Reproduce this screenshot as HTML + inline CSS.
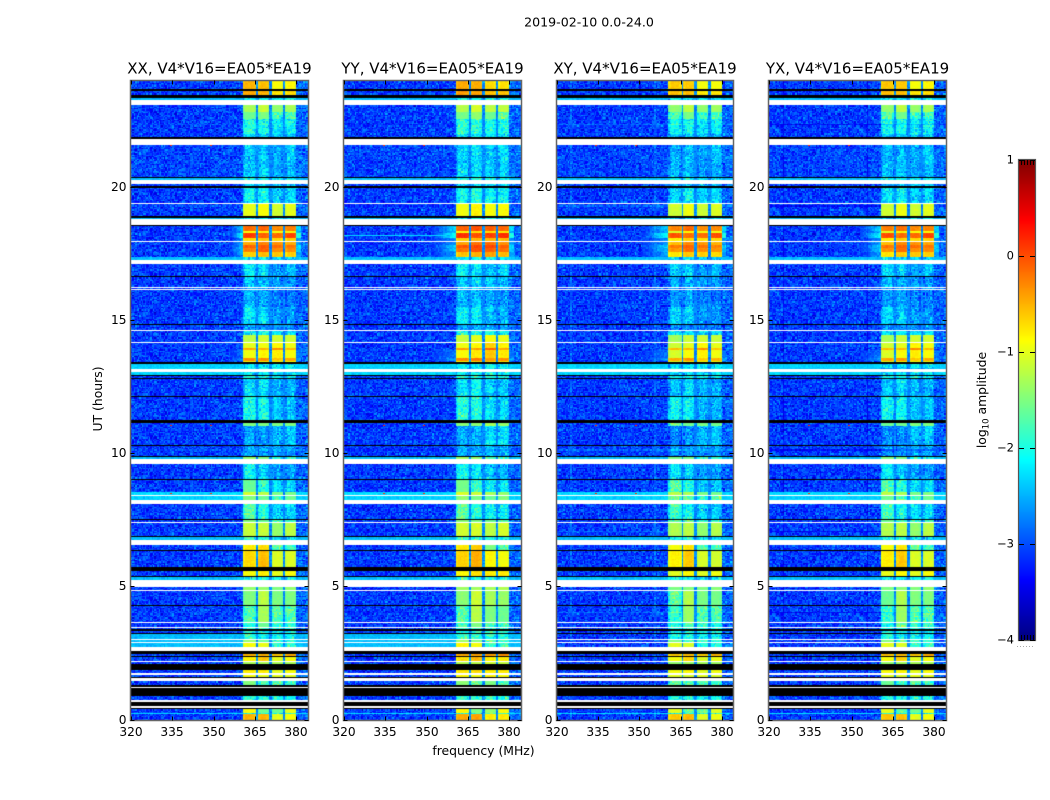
<!DOCTYPE html>
<html lang="en">
<head>
<meta charset="utf-8">
<title>2019-02-10 amplitude spectrograms</title>
<style>
html,body{margin:0;padding:0;background:#fff;}
#figure{position:relative;width:1050px;height:800px;overflow:hidden;background:#fff;font-family:"DejaVu Sans","Liberation Sans",sans-serif;}
canvas{position:absolute;display:block;}
svg{position:absolute;left:0;top:0;}
text{font-family:"DejaVu Sans","Liberation Sans",sans-serif;fill:#000;}
</style>
</head>
<body>
<div id="figure">
<svg id="overlay" width="1050" height="800"></svg>
</div>
<script>
// ---- chart data ----
const panelTitles = ["XX, V4*V16=EA05*EA19","YY, V4*V16=EA05*EA19","XY, V4*V16=EA05*EA19","YX, V4*V16=EA05*EA19"];
const panelIds = ["xx","yy","xy","yx"];
const xTickValues = [320,335,350,365,380];
const yTickValues = [0,5,10,15,20];
const colorTickValues = [1,0,-1,-2,-3,-4];
const freqRange = [320,384];
const utRange = [0,24];
const colorRange = [-4,1];
const channelCount = 128;
const subBands = [[360.7,365.3],[366,370],[370.8,375.1],[375.9,380.1]];
// log10 amplitude offsets of the quiet background, one per 4 MHz from 320 MHz
const outerOffsets = [0.02,0,0,0,0,0.02,0.02,0.03,0.03,0.05,0.1,0.1,0.1,0.18,0.2,0.22];
// per-polarisation sub-band brightness offsets
const panelBandOffsets = [[0,0,0,0],[0.05,0.08,0.2,0.12],[-0.12,-0.05,-0.02,-0.05],[-0.1,-0.05,0,0]];
// lowest frequency of the RFI shoulder in each polarisation
const shoulderStarts = [356,352,351,353];
// UT range that is quiet rather than cyan in the cross hands
const crossQuietRange = [2.74,3.2];
// narrow interference spikes
const spikeTimes = [21.57,11.07,8.52];
const spikeFreqs = [334,348.5];
const spikeLevel = 0.2;
// faint horizontal streak seen only in YY
const yyStreakTime = 18.2;
const yyStreakLevel = -2.3;
const yyStreakEnd = 357;
// hand-entered speckle sample (log10 scatter, -1..1)
const speckle = [-.4,.3,-.1,.8,-.7,.1,.5,-.3,.9,-.5,0,.4,-.9,.2,.6,-.2,-.6,.7,.1,-.4,.3,-.8,.5,0,-.3,1,-.1,.2,-.6,.4,-.2,.7,-.5,.1,.9,-.7,.3,-.4,.6,-.1,.2,-1,.5,-.3,.8,0,-.5,.4,-.2,.6,-.8,.1,.3,-.6,.7,-.1,.4,-.4,.2,-.3,.55];

const B=-3.13, Q=-3.08, C=-2.45, W=null, K=-9;
// rows: [UT high, UT low, background, sub-band 1..4, shoulder]; W=flagged (white), K=below range (black)
const timeRows = [
[24,23.69,B,-.5,-.55,-.9,-.85],[23.69,23.59,K],[23.59,23.44,B,-.45,-.5,-.75,-.7],[23.44,23.36,K],
[23.36,23.27,C,-2.1,-2.1,-2.1,-2.1],[23.27,23.09,W],[23.09,22.8,B,-1.3,-1.15,-1.4,-1.3],[22.8,22.57,B,-1.6,-1.5,-1.8,-1.75],
[22.57,22.54,W],[22.54,22,B,-1.95,-2,-2.2,-2.1],[22,21.98,W],[21.98,21.88,B,-2.3,-2.3,-2.4,-2.4],
[21.88,21.82,K],[21.82,21.59,W],[21.59,20.92,Q,-2.4,-2.35,-2.55,-2.35],[20.92,20.89,W],
[20.89,20.38,Q,-2.35,-2.35,-2.55,-2.45],[20.38,20.34,K],[20.34,20.25,C,-2,-2,-2.1,-2.1],[20.25,20.1,W],
[20.1,20.03,B,-2.4,-2.4,-2.4,-2.4],[20.03,19.98,K],[19.98,19.39,B,-2.15,-2.05,-2.35,-2.25],[19.39,19.35,W],
[19.35,18.9,B,-1,-.9,-1.1,-1],[18.9,18.84,K],[18.84,18.79,C,-2.2,-2.2,-2.2,-2.2],[18.79,18.56,W],
[18.56,18.53,K],[18.53,18.35,B,-.15,-.1,-.3,-.25,-2.3],[18.35,18.26,B,-.9,-.8,-.9,-.9,-2.5],[18.26,18.07,B,.1,-.1,-.15,.05,-2],
[18.07,17.96,B,-.7,-.6,-.7,-.65,-2.7],[17.96,17.94,W],[17.94,17.81,B,-.45,-.25,-.35,-.45,-2.6],[17.81,17.7,B,-.1,-.05,-.15,-.2,-2.3],
[17.7,17.55,B,-.25,-.1,-.3,-.3,-2.4],[17.55,17.37,B,-.65,-.55,-.6,-.65,-2.6],[17.37,17.25,C,-2.2,-2.2,-2.3,-2.3],[17.25,17.1,W],
[17.1,16.65,B,-2.2,-2.3,-2.6,-2.4],[16.65,16.61,K],[16.61,16.25,B,-2.4,-2.4,-2.6,-2.6],[16.25,16.21,W],
[16.21,16.16,B,-2.5,-2.5,-2.7,-2.7],[16.16,16.12,W],[16.12,15.5,B,-2.5,-2.5,-2.75,-2.75],[15.5,14.87,B,-2.2,-2.25,-2.6,-2.6],
[14.87,14.84,W],[14.84,14.8,K],[14.8,14.62,B,-2.6,-2.6,-2.7,-2.7],[14.62,14.59,W],
[14.59,14.43,B,-2.1,-2.1,-2.2,-2.2],[14.43,14.16,B,-1.2,-1.1,-1.1,-1.1],[14.16,14.13,W],[14.13,13.95,B,-1,-.95,-.85,-.95],
[13.95,13.88,B,-.45,-.5,-.3,-.55],[13.88,13.58,B,-.95,-.85,-.8,-.9,-2.8],[13.58,13.47,B,-.35,-.3,-.6,-.45,-2.6],[13.47,13.41,B,-.9,-.8,-.9,-.9],
[13.41,13.36,K],[13.36,13.16,-2.35,-2.2,-2.2,-2.2,-2.2],[13.16,13.04,W],[13.04,12.93,-2.35,-2.2,-2.2,-2.2,-2.2],
[12.93,12.89,K],[12.89,12.83,B,-2,-2,-2.1,-2.1],[12.83,12.8,K],[12.8,12.15,B,-2.3,-2.2,-2.5,-2.5],
[12.15,12.12,K],[12.12,11.25,B,-2,-2.05,-2.4,-2.4],[11.25,11.12,K],[11.12,11.03,B,-1.5,-1.5,-1.5,-1.5],
[11.03,10.31,B,-2.6,-2.6,-2.45,-2.35],[10.31,10.28,K],[10.28,9.89,B,-2.55,-2.6,-2.6,-2.6],[9.89,9.86,K],
[9.86,9.77,C,-1.4,-1.5,-1.9,-1.9],[9.77,9.59,W],[9.59,9.02,B,-2.1,-2.3,-2.6,-2.6],[9.02,8.98,K],
[8.98,8.53,B,-1.6,-1.9,-2.3,-2.3],[8.53,8.43,-2.3,-1.1,-1.2,-1.5,-1.5],[8.43,8.39,W],[8.39,8.24,-2.35,-1.5,-1.6,-1.8,-1.6],
[8.24,8.08,W],[8.08,7.52,B,-1.7,-2,-2.3,-2.3],[7.52,7.48,K],[7.48,7.42,B,-1.5,-1.6,-1.8,-1.8],
[7.42,7.38,W],[7.38,6.89,B,-1.15,-1.15,-1.4,-1.2],[6.89,6.84,K],[6.84,6.74,C,-1.9,-1.9,-2.2,-2.2],
[6.74,6.56,W],[6.56,6.37,B,-.8,-.7,-1.7,-1.8],[6.37,6.33,K],[6.33,5.72,B,-.7,-.55,-1.05,-1.05],
[5.72,5.59,K],[5.59,5.4,B,-.9,-.8,-1,-.9],[5.4,5.35,K],[5.35,5.24,C,-2,-2,-2.1,-2.1],
[5.24,4.97,W],[4.97,4.87,B,-1.4,-1.4,-1.5,-1.4],[4.87,4.84,W],[4.84,4.3,B,-1.5,-1.2,-1.5,-1.5],
[4.3,4.28,K],[4.28,3.65,B,-1.75,-1.3,-1.7,-1.7],[3.65,3.62,W],[3.62,3.48,B,-1.9,-1.6,-1.9,-1.9],
[3.48,3.44,W],[3.44,3.39,B,-1.9,-1.9,-2,-2],[3.39,3.32,K],[3.32,3.24,B,-2,-2,-2.1,-2.1],
[3.24,3.2,K],[3.2,3.02,C,-1.9,-2,-2.1,-2.1],[3.02,2.98,W],[2.98,2.9,C,-1.4,-1.6,-1.9,-1.9],
[2.9,2.87,W],[2.87,2.74,C,-.9,-1,-1.9,-1.9],[2.74,2.57,W],[2.57,2.47,K],
[2.47,2.39,B,-.5,-.5,-.6,-.45],[2.39,2.35,K],[2.35,2.2,B,-.8,-.6,-1,-.9],[2.2,2.17,W],
[2.17,2.09,B,-1.3,-1.3,-1.3,-1.3],[2.09,1.87,K],[1.87,1.74,B,-.8,-.8,-1,-.9],[1.74,1.67,W],
[1.67,1.61,B,-.9,-1,-1,-1],[1.61,1.54,K],[1.54,1.46,W],[1.46,1.29,B,-1.5,-1.7,-1.7,-1.8],
[1.29,1.23,K],[1.23,1.2,W],[1.2,.9,K],[.9,.74,B,-1.9,-1.95,-2,-2],
[.74,.65,W],[.65,.49,K],[.49,.45,W],[.45,.4,K],
[.4,.24,B,-.9,-1.6,-1.6,-1],[.24,.19,-2.3,-2,-2,-2,-2],[.19,0,B,-.5,-.5,-1,-.9]
];

// ---- layout ----
const panelLefts = [131,344,556.5,769];
const panelWidth = 176.5;
const plotTop = 80.5;
const plotBottom = 719.5;
const cbar = {left:1019,right:1035,top:160,bottom:640};
const svgNS = "http://www.w3.org/2000/svg";
const overlay = document.getElementById("overlay");
const figure = document.getElementById("figure");

// ---- axis functions ----
function xScale(p, f){ return panelLefts[p] + (f-freqRange[0])/(freqRange[1]-freqRange[0])*panelWidth; }
function yScale(ut){ return plotBottom - (ut-utRange[0])/(utRange[1]-utRange[0])*(plotBottom-plotTop); }
function cScale(v){ return cbar.bottom - (v-colorRange[0])/(colorRange[1]-colorRange[0])*(cbar.bottom-cbar.top); }
function ramp(x){ return Math.max(0,Math.min(1,x)); }
function jet(v){
  const t = ramp((v-colorRange[0])/(colorRange[1]-colorRange[0]));
  const r = ramp(Math.min(4*t-1.5,-4*t+4.5));
  const g = ramp(Math.min(4*t-0.5,-4*t+3.5));
  const b = ramp(Math.min(4*t+0.5,-4*t+2.5));
  return "rgb("+Math.round(r*255)+","+Math.round(g*255)+","+Math.round(b*255)+")";
}
function noiseAt(p,c,l){
  const n = speckle.length;
  const u = speckle[(c*c*3+c*17+l*l*7+l*31+p*13)%n];
  const w = speckle[(c*l*5+c*23+l*11+p*29)%n];
  return (u+w)*0.75;
}
function cellValue(p,row,c,l){
  const f = freqRange[0]+(c+0.5)*(freqRange[1]-freqRange[0])/channelCount;
  const n = noiseAt(p,c,l);
  let bg = row[2];
  if(p>=2 && row[1]>=crossQuietRange[0] && row[0]<=crossQuietRange[1]) bg = B;
  const quiet = bg<=-3;
  if(row.length>3){
    for(let s=0;s<subBands.length;s++){
      if(f>=subBands[s][0] && f<=subBands[s][1]){
        const base = row[3+s]+panelBandOffsets[p][s];
        const weak = base<-1.6;
        const edge = Math.min(f-subBands[s][0],subBands[s][1]-f);
        const taper = edge<1 ? (1-edge)*(weak?0.35:0.12) : 0;
        return base-taper+n*(weak?0.4:0.07);
      }
    }
    if(f>subBands[0][0] && f<subBands[3][1]) return -2.7+n*0.2;
    if(row[7]!==undefined && f>=shoulderStarts[p] && f<subBands[0][0]){
      const frac = (f-shoulderStarts[p])/(subBands[0][0]-shoulderStarts[p]);
      return bg+(row[7]-bg)*frac+n*0.2;
    }
    if(row[7]!==undefined && f>=subBands[3][1] && f<subBands[3][1]+1.5) return row[7]+n*0.15;
  }
  const bin = Math.min(outerOffsets.length-1,Math.floor((f-freqRange[0])/4));
  return bg+(quiet?outerOffsets[bin]:0)+n*(quiet?0.42:0.12);
}

// ---- heatmaps ----
panelIds.forEach(function(id,p){
  const left = Math.round(panelLefts[p]);
  const cv = document.createElement("canvas");
  
  
  cv.width = Math.round(panelWidth);
  cv.height = Math.round(plotBottom-plotTop);
  cv.style.left = left+"px";
  cv.style.top = Math.round(plotTop)+"px";
  figure.insertBefore(cv,overlay);
  const ctx = cv.getContext("2d");
  const oy = Math.round(plotTop);
  ctx.fillStyle = jet(B);
  ctx.fillRect(0,0,cv.width,cv.height);
  timeRows.forEach(function(row){
    const y0 = Math.round(yScale(row[0]))-oy;
    const y1 = Math.max(y0+1,Math.round(yScale(row[1]))-oy);
    if(row[2]===W || row[2]===K){
      ctx.fillStyle = row[2]===W ? "#ffffff" : "#000000";
      ctx.fillRect(0,y0,cv.width,y1-y0);
      return;
    }
    for(let y=y0;y<y1;y++){
      for(let c=0;c<channelCount;c++){
        const x0 = Math.round(xScale(p,freqRange[0]+c*0.5))-left;
        const x1 = Math.round(xScale(p,freqRange[0]+(c+1)*0.5))-left;
        if(x1<=x0) continue;
        ctx.fillStyle = jet(cellValue(p,row,c,Math.floor(y*0.75)));
        ctx.fillRect(x0,y,x1-x0,1);
      }
    }
  });
  spikeTimes.forEach(function(ut){
    spikeFreqs.forEach(function(f){
      ctx.fillStyle = jet(spikeLevel);
      ctx.fillRect(Math.round(xScale(p,f))-left,Math.round(yScale(ut))-oy,2,1);
    });
  });
  if(id==="yy"){
    ctx.fillStyle = jet(yyStreakLevel);
    ctx.fillRect(0,Math.round(yScale(yyStreakTime))-oy,Math.round(xScale(p,yyStreakEnd))-left,1);
  }
});

// ---- colour bar ----
const barCanvas = document.createElement("canvas");


barCanvas.width = cbar.right-cbar.left;
barCanvas.height = cbar.bottom-cbar.top;
barCanvas.style.left = cbar.left+"px";
barCanvas.style.top = cbar.top+"px";
figure.insertBefore(barCanvas,overlay);
(function(){
  const ctx = barCanvas.getContext("2d");
  for(let y=0;y<barCanvas.height;y++){
    ctx.fillStyle = jet(colorRange[1]-(y+0.5)/barCanvas.height*(colorRange[1]-colorRange[0]));
    ctx.fillRect(0,y,barCanvas.width,1);
  }
})();

// ---- axes, ticks, labels ----
function line(x1,y1,x2,y2,stroke,w){
  const l = document.createElementNS(svgNS,"line");
  l.setAttribute("x1",x1);
  l.setAttribute("y1",y1);
  l.setAttribute("x2",x2);
  l.setAttribute("y2",y2);
  l.setAttribute("stroke",stroke);
  l.setAttribute("stroke-width",w);
  overlay.appendChild(l);
  return l;
}
function label(str,x,y,size,anchor,rot){
  const t = document.createElementNS(svgNS,"text");
  t.setAttribute("x",x);
  t.setAttribute("y",y);
  t.setAttribute("font-size",size);
  t.setAttribute("text-anchor",anchor);
  if(rot) t.setAttribute("transform","rotate("+rot+" "+x+" "+y+")");
  t.textContent = str;
  overlay.appendChild(t);
  return t;
}
function fmt(v){ return v<0 ? "\u2212"+Math.abs(v) : String(v); }

panelIds.forEach(function(id,p){
  const L = Math.round(panelLefts[p])-0.5;
  const R = Math.round(panelLefts[p]+panelWidth)+0.5;
  const T = Math.round(plotTop)-0.5;
  const Bm = Math.round(plotBottom)+0.5;
  const frame = document.createElementNS(svgNS,"rect");
  
  
  frame.setAttribute("x",L);
  frame.setAttribute("y",T);
  frame.setAttribute("width",R-L);
  frame.setAttribute("height",Bm-T);
  frame.setAttribute("fill","none");
  frame.setAttribute("stroke","#666");
  frame.setAttribute("stroke-width","1.5");
  overlay.appendChild(frame);

  const title = label(panelTitles[p],(L+R)/2,73.5,15,"middle");
  
  

  xTickValues.forEach(function(v){
    const x = Math.round(xScale(p,v))+0.5;
    const a = line(x,Bm,x,Bm-4,"#000",1);
    
    
    const b = line(x,T,x,T+4,"#000",1);
    
    
    const t = label(String(v),x-0.5,736,12.2,"middle");
    
    
  });
  yTickValues.forEach(function(v){
    const y = Math.round(yScale(v))+0.5;
    const a = line(L,y,L+4,y,"#000",1);
    
    
    const b = line(R,y,R-4,y,"#000",1);
    
    
    const t = label(String(v),L-4,y+3.7,12.2,"end");
    
    
  });
});

const figTitle = label("2019-02-10 0.0-24.0",589,26.5,12.6,"middle");


const xTitle = label("frequency (MHz)",483.5,755,12.4,"middle");


const yTitle = label("UT (hours)",102,399,12.4,"middle",-90);



// colour bar furniture
const barFrame = document.createElementNS(svgNS,"rect");


barFrame.setAttribute("x",cbar.left-0.5);
barFrame.setAttribute("y",cbar.top-0.5);
barFrame.setAttribute("width",cbar.right-cbar.left+1);
barFrame.setAttribute("height",cbar.bottom-cbar.top+1);
barFrame.setAttribute("fill","none");
barFrame.setAttribute("stroke","#555");
barFrame.setAttribute("stroke-width","1.2");
overlay.appendChild(barFrame);
colorTickValues.forEach(function(v){
  const y = Math.round(cScale(v))+0.5;
  const a = line(cbar.left,y,cbar.left+5,y,"#000",1);
  
  
  const b = line(cbar.right,y,cbar.right-5,y,"#000",1);
  
  
  const t = label(fmt(v),cbar.left-5,y+3,11.5,"end");
  
  
});
[1021.5,1024.5,1027.5,1030.5,1033.5].forEach(function(x){
  const a = line(x,cbar.top,x,cbar.top+5,"#000",1);
  
  
  const b = line(x,cbar.bottom,x,cbar.bottom-5,"#000",1);
  
  
});
const dots = line(1017,646.5,1035,646.5,"#aaa",1);
dots.setAttribute("stroke-dasharray","1 2");



const cbTitle = document.createElementNS(svgNS,"text");


cbTitle.setAttribute("x",986);
cbTitle.setAttribute("y",400);
cbTitle.setAttribute("font-size","12.4");
cbTitle.setAttribute("text-anchor","middle");
cbTitle.setAttribute("transform","rotate(-90 986 400)");
cbTitle.textContent = "log";
const sub = document.createElementNS(svgNS,"tspan");
sub.setAttribute("font-size","8.5");
sub.setAttribute("dy","2.5");
sub.textContent = "10";
cbTitle.appendChild(sub);
const rest = document.createElementNS(svgNS,"tspan");
rest.setAttribute("dy","-2.5");
rest.textContent = " amplitude";
cbTitle.appendChild(rest);
overlay.appendChild(cbTitle);
</script>
</body>
</html>
